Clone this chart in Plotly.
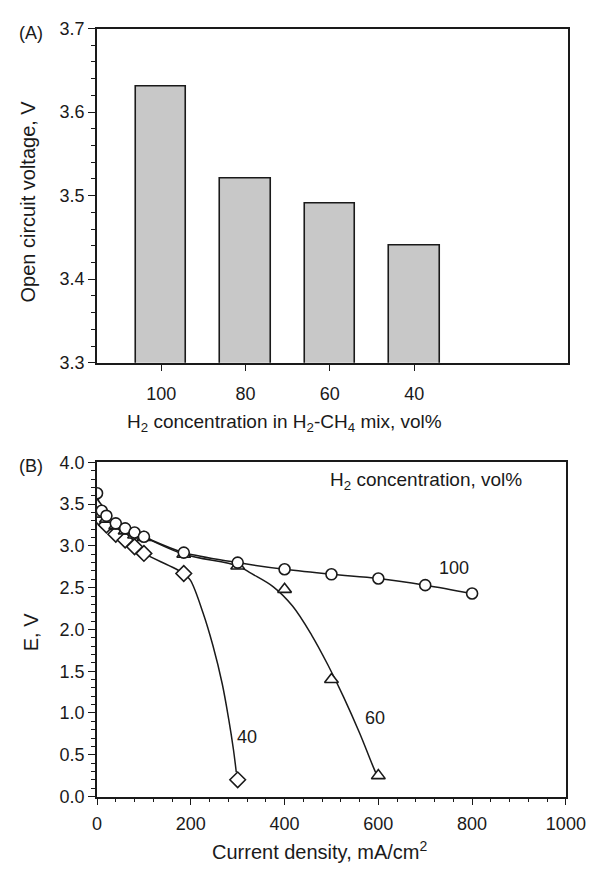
import plotly.graph_objects as go

# ---- Panel A: open circuit voltage vs H2 fraction ----
h2_labels = ["100", "80", "60", "40"]
h2_pos = [0, 1, 2, 3]
ocv = [3.63, 3.52, 3.49, 3.44]

# ---- Panel B: polarisation data (current density mA/cm2, E in V) ----
j_100 = [0, 10, 20, 40, 60, 80, 100, 185, 300, 400, 500, 600, 700, 800]
e_100 = [3.63, 3.42, 3.36, 3.27, 3.21, 3.16, 3.11, 2.92, 2.80, 2.72, 2.66, 2.61, 2.53, 2.43]

j_60 = [0, 10, 20, 40, 60, 80, 100, 185, 300, 400, 500, 600]
e_60 = [3.49, 3.38, 3.32, 3.24, 3.18, 3.13, 3.10, 2.90, 2.76, 2.48, 1.40, 0.25]

j_40 = [0, 10, 20, 40, 60, 80, 100, 185, 300]
e_40 = [3.44, 3.31, 3.25, 3.14, 3.07, 2.99, 2.91, 2.67, 0.20]

# smoothed guide curves
fit_j_60 = [0, 10, 20, 40, 60, 80, 100, 185, 300, 329, 376, 417, 458, 492, 526, 560, 588, 598]
fit_e_60 = [3.49, 3.38, 3.32, 3.24, 3.18, 3.13, 3.10, 2.90, 2.76, 2.67, 2.51, 2.28, 1.93, 1.58, 1.19, 0.76, 0.37, 0.24]

fit_j_40 = [0, 10, 20, 40, 60, 80, 100, 185, 199, 226, 247, 267, 281, 291, 297]
fit_e_40 = [3.44, 3.31, 3.25, 3.14, 3.07, 2.99, 2.91, 2.67, 2.59, 2.20, 1.81, 1.35, 0.92, 0.56, 0.29]

W, H = 606, 871
FONT = "Liberation Sans, Arial, sans-serif"
INK = "#1a1a1a"


def fx(px):
    return px / W


def fy(py):
    return 1 - py / H


fig = go.Figure()

fig.add_trace(go.Bar(
    x=h2_pos, y=ocv, width=0.6,
    marker=dict(color="#c8c8c8", line=dict(color=INK, width=1.6)),
    xaxis="x", yaxis="y", showlegend=False,
))

fit_line = dict(color=INK, width=1.5, shape="spline", smoothing=1.0)
for jj, ee in [(j_100, e_100), (fit_j_60, fit_e_60), (fit_j_40, fit_e_40)]:
    fig.add_trace(go.Scatter(x=jj, y=ee, mode="lines", line=fit_line,
                             xaxis="x2", yaxis="y2", showlegend=False))

for jj, ee, sym, sz in [(j_40, e_40, "diamond", 12), (j_60, e_60, "triangle-up", 12), (j_100, e_100, "circle", 11)]:
    fig.add_trace(go.Scatter(
        x=jj, y=ee, mode="markers",
        marker=dict(symbol=sym, size=sz, color="white", line=dict(color=INK, width=1.6)),
        xaxis="x2", yaxis="y2", showlegend=False,
    ))

axis_common = dict(
    showline=True, linecolor=INK, linewidth=1.6, mirror=True,
    ticks="outside", tickcolor=INK, tickwidth=1.4,
    showgrid=False, zeroline=False,
    tickfont=dict(family=FONT, size=18, color=INK),
)
minor_style = dict(ticks="outside", ticklen=4, tickcolor=INK, tickwidth=1.2)

fig.update_layout(
    width=W, height=H,
    margin=dict(l=0, r=0, t=0, b=0),
    paper_bgcolor="white", plot_bgcolor="white",
    bargap=0,
    xaxis=dict(domain=[fx(96), fx(587)], anchor="y", range=[-0.76, 4.82],
               tickvals=h2_pos, ticktext=h2_labels, ticklen=6, ticklabelstandoff=8,
               **axis_common),
    yaxis=dict(domain=[fy(361), fy(19)], anchor="x", range=[3.3, 3.7],
               tickvals=[3.3, 3.4, 3.5, 3.6, 3.7], tickformat=".1f", ticklen=7,
               minor=dict(dtick=0.02, **minor_style),
               **axis_common),
    xaxis2=dict(domain=[fx(96), fx(585)], anchor="y2", range=[0, 1000],
                dtick=200, ticklen=7, ticklabelstandoff=3,
                minor=dict(dtick=40, **minor_style),
                **axis_common),
    yaxis2=dict(domain=[fy(805), fy(463)], anchor="x2", range=[0, 4],
                dtick=0.5, tickformat=".1f", ticklen=7,
                minor=dict(dtick=0.1, **minor_style),
                **axis_common),
)


def note(text, x, y, size=19, angle=0):
    fig.add_annotation(text=text, x=fx(x), y=fy(y), xref="paper", yref="paper",
                       showarrow=False, xanchor="center", yanchor="middle",
                       textangle=angle, font=dict(family=FONT, size=size, color=INK))


note("(A)", 27, 24, size=18)
note("(B)", 27, 467, size=18)
note("Open circuit voltage, V", 24, 196, size=20, angle=-90)
note("H<sub>2</sub> concentration in H<sub>2</sub>-CH<sub>4</sub> mix, vol%", 292, 423)
note("E, V", 27, 637, size=20, angle=-90)
note("Current density, mA/cm<sup>2</sup>", 328, 860, size=20)
note("H<sub>2</sub> concentration, vol%", 439, 482)
note("100", 468, 571, size=18)
note("60", 386, 725, size=18)
note("40", 252, 744, size=18)

# page body without the browser's default margin so the figure fills the window
fig.write_html("out.html", post_script="document.body.style.margin='0';")
